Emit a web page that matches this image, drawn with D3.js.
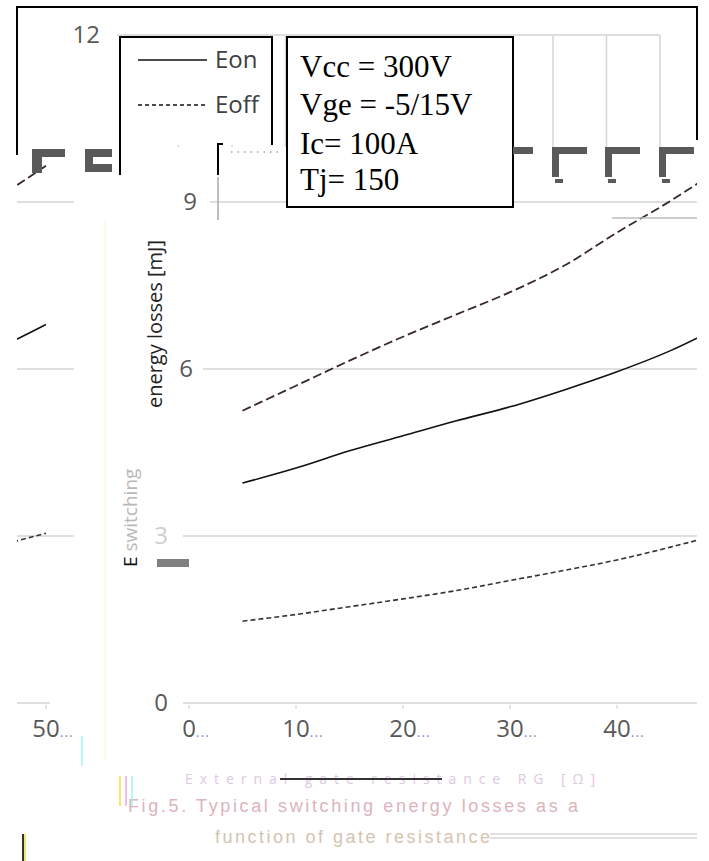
<!DOCTYPE html>
<html><head><meta charset="utf-8">
<script src="https://cdn.jsdelivr.net/npm/d3@7"></script>
<style>body{margin:0;background:#fff}svg{display:block}</style>
</head><body>
<svg id="c" width="709" height="861"></svg>
<script>
// ---- data ----
const gateResistance=[5,10,15,20,25,30,35,40,45,50];
const eon =[3.95,4.22,4.53,4.80,5.07,5.32,5.62,5.95,6.33,6.80];
const eoff=[1.47,1.59,1.73,1.87,2.02,2.20,2.38,2.57,2.80,3.05];
const ets =[5.25,5.70,6.15,6.58,6.98,7.38,7.85,8.45,9.02,9.65];
const yTicks=[0,3,6,9,12];
const xTicks=[0,10,20,30,40,50];
const seriesNames=["Eon","Eoff","Ets"];
const conditions=["Vcc = 300V","Vge = -5/15V","Ic= 100A","Tj= 150"];
const yTitleA="E switching";
const yTitleB="energy losses [mJ]";
const xTitle="External gate resistance RG [Ω]";
const caption=["Fig.5. Typical switching energy losses as a","function of gate resistance"];

// ---- layout ----
const svg=d3.select("#c");
const x=d3.scaleLinear().domain([0,50]).range([189,724]);
const y=d3.scaleLinear().domain([0,12]).range([703,35]);
const xTop=d3.scaleLinear().domain([0,50]).range([125,660]);
const grid="#d4d4d4", tickCol="#595959";
const sans="'Open Sans', 'Liberation Sans', sans-serif";
const WRAP=678;

const defs=svg.append("defs");
defs.append("clipPath").attr("id","clipMain").append("rect")
  .attr("x",17).attr("y",140).attr("width",680).attr("height",640);
defs.append("clipPath").attr("id","clipWrap").append("rect")
  .attr("x",695).attr("y",140).attr("width",88).attr("height",640);

// ---- top band (frame, 12 gridline, vertical grid) ----
const topBand=svg.append("g");
topBand.append("line").attr("x1",xTop(0)-8).attr("x2",xTop(50))
  .attr("y1",y(12)).attr("y2",y(12)).attr("stroke",grid).attr("stroke-width",1.5);
topBand.selectAll("line.v").data(d3.range(5,55,5)).join("line").attr("class","v")
  .attr("x1",d=>xTop(d)).attr("x2",d=>xTop(d)).attr("y1",y(12)).attr("y2",147)
  .attr("stroke",grid).attr("stroke-width",1.5);
topBand.append("text").attr("x",xTop(0)-25).attr("y",y(12)).attr("dy","0.35em")
  .attr("text-anchor","end").attr("font-family",sans).attr("font-size",24)
  .attr("fill",tickCol).text(yTicks[4]);
topBand.append("path").attr("d","M17,155V7H697V140").attr("fill","none")
  .attr("stroke","#000").attr("stroke-width",2);

// ---- plot body (drawn twice: main + wrapped strip) ----
const labelShift={0:-21,3:-21,6:4,9:8};
const gridStart={0:183,3:183,6:203,9:210};
function drawPlot(g, wrapped){
  g.selectAll("line.h").data(yTicks.slice(0,4)).join("line").attr("class","h")
    .attr("x1",d=>gridStart[d]).attr("x2",d=>d===0?728:752)
    .attr("y1",d=>y(d)).attr("y2",d=>y(d))
    .attr("stroke",grid).attr("stroke-width",1.5);
  g.selectAll("line.t").data(xTicks).join("line").attr("class","t")
    .attr("x1",d=>x(d)).attr("x2",d=>x(d)).attr("y1",705).attr("y2",709)
    .attr("stroke","#ccc").attr("stroke-width",1);
  const visible=wrapped? xTicks.filter(t=>x(t)>=700) : xTicks.filter(t=>x(t)<=680);
  visible.forEach(t=>{
    const tx=g.append("text").attr("x",x(t)).attr("y",737)
      .attr("text-anchor","middle").attr("font-family",sans).attr("font-size",24)
      .attr("fill",tickCol).text(t);
    const w=tx.node().getComputedTextLength();
    g.append("text").attr("x",x(t)+w/2).attr("y",737)
      .attr("font-family",sans).attr("font-size",14).attr("letter-spacing",1)
      .attr("fill","#8a8ac8").text("...");
  });
  if(!wrapped){
    yTicks.slice(0,4).forEach(t=>{
      g.append("text").attr("x",x(0)+labelShift[t]).attr("y",y(t)).attr("dy","0.35em")
        .attr("text-anchor","end").attr("font-family",sans).attr("font-size",24)
        .attr("fill",t===3?"#cfcfcf":tickCol).text(t);
    });
  }
  const line=d3.line().x((d,i)=>x(gateResistance[i])).y(d=>y(d)).curve(d3.curveMonotoneX);
  g.append("path").datum(ets).attr("d",line).attr("fill","none")
    .attr("stroke","#3a2828").attr("stroke-width",1.8).attr("stroke-dasharray","9,4");
  g.append("path").datum(eon).attr("d",line).attr("fill","none")
    .attr("stroke","#111").attr("stroke-width",1.6);
  g.append("path").datum(eoff).attr("d",line).attr("fill","none")
    .attr("stroke","#333").attr("stroke-width",1.6).attr("stroke-dasharray","5,3");
}
drawPlot(svg.append("g").attr("clip-path","url(#clipMain)"), false);
drawPlot(svg.append("g").attr("transform",`translate(${-WRAP},0)`)
  .append("g").attr("clip-path","url(#clipWrap)"), true);

// faint strip boundary
svg.append("line").attr("x1",105).attr("x2",105).attr("y1",220).attr("y2",760)
  .attr("stroke","#fbfbe4").attr("stroke-width",1.5);

// ---- legend box ----
const leg=svg.append("g");
leg.append("rect").attr("x",120).attr("y",37).attr("width",152).attr("height",108).attr("fill","#fff");
leg.append("path").attr("d","M120,175V37H272V145").attr("fill","none")
  .attr("stroke","#000").attr("stroke-width",2);
const legY=[60,105];
seriesNames.slice(0,2).forEach((n,i)=>{
  leg.append("line").attr("x1",138).attr("x2",207).attr("y1",legY[i]).attr("y2",legY[i])
    .attr("stroke","#111").attr("stroke-width",1.3).attr("stroke-dasharray",i? "4,3":null);
  leg.append("text").attr("x",215).attr("y",legY[i]).attr("dy","0.35em")
    .attr("font-family",sans).attr("font-size",24).attr("fill","#404040").text(n);
});
leg.append("path").attr("d","M223,144H218V175").attr("fill","none").attr("stroke","#000").attr("stroke-width",2);
leg.append("line").attr("x1",231).attr("x2",283).attr("y1",152).attr("y2",152)
  .attr("stroke","#777").attr("stroke-width",1.2).attr("stroke-dasharray","1.5,5");
leg.append("line").attr("x1",218).attr("x2",218).attr("y1",177).attr("y2",220)
  .attr("stroke","#aaa").attr("stroke-width",1.5);

// ---- conditions box ----
const box=svg.append("g");
box.append("rect").attr("x",287).attr("y",37).attr("width",226).attr("height",170)
  .attr("fill","#fff").attr("stroke","#000").attr("stroke-width",2);
const condY=[77,115,154,190];
conditions.forEach((c,i)=>box.append("text").attr("x",300).attr("y",condY[i])
  .attr("font-family","'Liberation Serif', 'Times New Roman', serif").attr("font-size",31)
  .attr("fill","#000").text(c));

// ---- glitch blocks (decoration) ----
const gl=svg.append("g").attr("fill","#5a5a5a");
gl.append("path").attr("d","M32,149H65V157H42V173H32Z");
gl.append("path").attr("d","M85,149H112V157H93V164H112V172H85Z");
gl.append("rect").attr("x",513).attr("y",147).attr("width",20).attr("height",7);
[552,605,659].forEach(a=>{
  gl.append("path").attr("d",`M${a},147H${a+35}V154H${a+7}V177H${a}Z`);
  gl.append("rect").attr("x",a+3).attr("y",179).attr("width",8).attr("height",4);
});
svg.append("line").attr("x1",612).attr("x2",697).attr("y1",218).attr("y2",218)
  .attr("stroke","#bbb").attr("stroke-width",1.5);

// ---- y title ----
svg.append("rect").attr("x",157).attr("y",559).attr("width",32).attr("height",8).attr("fill","#808080");
const ya=svg.append("text").attr("transform","translate(137,567) rotate(-90)")
  .attr("font-family",sans).attr("font-size",19);
ya.append("tspan").attr("fill","#111").text("E");
ya.append("tspan").attr("fill","#b8b8b8").text(yTitleA.slice(1));
svg.append("text").attr("transform","translate(162,240) rotate(-90)")
  .attr("text-anchor","end").attr("font-family",sans).attr("font-size",20)
  .attr("fill","#222").text(yTitleB);

// ---- captions ----
svg.append("text").attr("x",185).attr("y",784).attr("textLength",410).attr("lengthAdjust","spacing")
  .attr("font-family",sans).attr("font-size",14)
  .attr("fill","#dcc8e0").text(xTitle);
svg.append("line").attr("x1",280).attr("x2",442).attr("y1",779).attr("y2",779)
  .attr("stroke","#333").attr("stroke-width",2);
svg.append("text").attr("x",128).attr("y",812).attr("textLength",450).attr("lengthAdjust","spacing")
  .attr("font-family","'Liberation Sans', sans-serif").attr("font-size",18)
  .attr("fill","#dcb4bc").text(caption[0]);
svg.append("text").attr("x",215).attr("y",843).attr("textLength",275).attr("lengthAdjust","spacing")
  .attr("font-family","'Liberation Sans', sans-serif").attr("font-size",18)
  .attr("fill","#d4c4b0").text(caption[1]);
[834,838].forEach(v=>svg.append("line").attr("x1",490).attr("x2",697).attr("y1",v).attr("y2",v)
  .attr("stroke","#c4c4c4").attr("stroke-width",1.2));
svg.append("line").attr("x1",23).attr("x2",23).attr("y1",834).attr("y2",861).attr("stroke","#333").attr("stroke-width",2);
svg.append("line").attr("x1",25).attr("x2",25).attr("y1",834).attr("y2",861).attr("stroke","#f0e040").attr("stroke-width",1.5);
svg.append("line").attr("x1",82).attr("x2",82).attr("y1",736).attr("y2",766).attr("stroke","#a0f4f4").attr("stroke-width",1.5);
[[120,"#f0e040"],[126,"#f0a0f0"],[132,"#a0f4f4"]].forEach(([a,c])=>svg.append("line")
  .attr("x1",a).attr("x2",a).attr("y1",776).attr("y2",806).attr("stroke",c).attr("stroke-width",1.5));
</script>
</body></html>
